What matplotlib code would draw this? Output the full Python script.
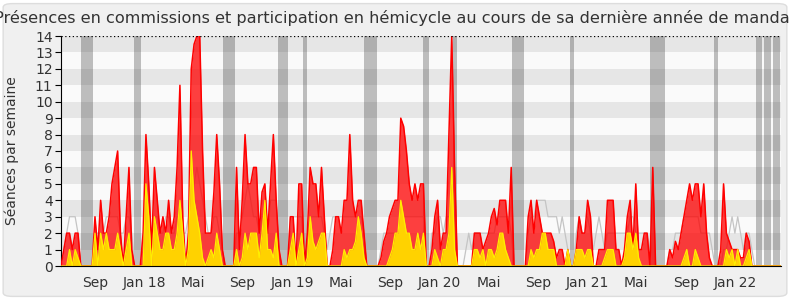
import pandas as pd
import matplotlib
matplotlib.use("Agg")
import matplotlib.pyplot as plt
from matplotlib.patches import FancyBboxPatch

# weekly values, one point per week from 2017-06-09
weeks = pd.date_range("2017-06-09", periods=256, freq="7D")

presences = [
    0, 1, 2, 2, 1, 2, 2, 0, 0, 0,
    0, 0, 3, 1, 4, 2, 2, 3, 5, 6,
    7, 2, 0, 3, 6, 1, 0, 0, 0, 2,
    8, 5, 1, 6, 4, 2, 3, 2, 4, 2,
    3, 6, 11, 3, 0, 2, 12, 13.5, 14, 14,
    7, 2, 2, 2, 4.5, 8, 5, 1, 0, 0,
    0, 0, 6, 1, 4, 8, 5, 5, 6, 6,
    2, 4.5, 5, 2, 5, 8, 4, 1, 0, 0,
    0, 3, 3, 0, 5, 5, 0, 2, 6, 5,
    5, 3, 6, 3, 0, 0, 1, 3, 3, 2,
    4, 4, 8, 4, 3, 4, 4, 2, 0, 0,
    0, 0, 0, 0.5, 1.5, 2, 3, 3.5, 4, 4,
    9, 8.5, 7, 5, 4, 5, 4, 5, 5, 0,
    0, 1, 3, 4, 1, 2, 2, 8, 14, 6,
    0, 0, 0, 0, 0, 0, 2, 2, 2, 1,
    1.5, 2, 3, 3.5, 2.5, 4, 4, 4, 2, 6,
    0, 0, 0, 0, 0, 3, 4, 2, 4, 3,
    2, 2, 2, 2, 1.5, 0.5, 1, 1, 0, 1,
    0, 0, 1, 3, 2, 2, 4, 3, 0, 0,
    1, 1, 1, 4, 4, 4, 1, 1, 0, 1,
    3, 4, 1, 5, 1, 1, 2, 2, 0, 6,
    0, 0, 0, 0, 0, 1, 0.5, 1.5, 1, 2,
    3, 4, 5, 4, 5, 5, 3, 5, 2, 0.5,
    0, 0, 0, 1, 5, 2, 1.5, 1, 1, 1,
    0.5, 0.5, 2, 1.5, 0, 0, 0, 0, 0, 0,
    0, 0, 0, 0, 0, 0,
]

hemicycle = [
    0, 0, 0, 1, 0, 1, 0.5, 0, 0, 0,
    0, 0, 2, 0, 2, 1, 2, 1, 1, 1,
    2, 1, 0, 1, 2, 0, 0, 0, 0, 0,
    5, 3, 0, 3, 2, 1, 1, 2, 2, 1,
    1, 2, 4, 2, 0, 1, 7, 4, 3, 2,
    0.5, 0, 0.5, 1, 0.5, 2, 1, 0, 0, 0,
    0, 0, 1, 0, 0.5, 2, 1, 2, 2, 2,
    0.5, 2, 4, 1, 1, 0.5, 2, 0, 0, 0,
    0, 1, 2, 0, 1, 2, 0, 0.5, 3, 1.5,
    1, 1.5, 2, 2, 0, 0, 0, 0, 0, 0,
    1, 0.5, 1, 1, 1.5, 3, 2, 0.5, 0, 0,
    0, 0, 0, 0, 0, 0, 0.5, 1, 2, 2,
    4, 3, 2, 2, 1, 1, 2, 1, 2, 0,
    0, 0, 1, 0.5, 0, 1, 1, 2, 6, 1,
    0, 0, 0, 0, 0, 0, 1, 1, 0.5, 1,
    0, 1, 1, 0.5, 1, 2, 2, 1, 0.5, 0,
    0, 0, 0, 0, 0, 0, 1, 0.5, 1, 1,
    2, 2, 1, 1, 1, 0, 0, 0, 0, 1,
    0, 0, 1, 1, 1, 0.5, 1, 1, 0, 0,
    0, 0, 0.5, 1, 1, 1, 0, 0, 0, 0.5,
    2, 2, 1, 2, 0.5, 0, 0, 0, 0, 0,
    0, 0, 0, 0, 0, 0, 0, 0, 0, 0,
    0.5, 1, 0, 0, 1, 0.5, 0, 0, 0, 0,
    0, 0, 0, 0, 0, 1, 0.5, 1, 0, 1,
    0, 0, 0.5, 1, 0, 0, 0, 0, 0, 0,
    0, 0, 0, 0, 0, 0,
]

mediane = [
    0, 1, 2, 3, 3, 3, 2, 0, 0, 0,
    0, 0, 2, 2, 2, 2, 3, 3, 3, 3,
    3, 2, 2, 3, 3, 2, 0, 0, 0, 2,
    3, 3, 2, 3, 3, 2, 2, 3, 3, 2,
    2, 3, 3, 2, 2, 3, 4, 5, 6, 5,
    4, 3, 2, 2, 3, 3, 2, 1, 0, 0,
    0, 0, 2, 2, 3, 4, 5, 4, 3, 3,
    2, 3, 3, 2, 4, 4, 4, 1, 0, 0,
    0, 3, 3, 3, 3, 3, 0, 2, 3, 3,
    3, 3, 3, 2, 1, 2, 3, 3, 3, 3,
    3, 3, 3, 3, 3, 3, 3, 2, 0, 0,
    0, 0, 0, 1, 2, 2, 2, 2, 2, 2,
    3, 3, 3, 3, 3, 3, 3, 3, 3, 0,
    0, 2, 2, 3, 3, 2, 3, 3, 3, 2,
    0, 0, 0, 1, 2, 1, 2, 2, 2, 2,
    2, 2, 2, 2, 3, 3, 3, 3, 3, 2,
    0, 0, 0, 0, 0, 2, 3, 3, 4, 4,
    4, 4, 3, 3, 3, 3, 2, 3, 2, 1,
    0, 0, 2, 3, 2, 2, 3, 2, 1, 2,
    3, 2, 1, 2, 2, 2, 2, 2, 2, 2,
    2, 3, 3, 2, 2, 2, 2, 2, 1, 0,
    0, 0, 0, 0, 0, 1, 1, 2, 2, 2,
    3, 3, 3, 3, 3, 3, 2, 2, 2, 2,
    1, 0, 0, 0, 1, 1, 2, 3, 2, 3,
    2, 1, 2, 2, 1, 0, 0, 0, 0, 0,
    0, 0, 0, 0, 0, 0,
]

vacances = [
    ("2017-07-28", "2017-08-27"), ("2017-12-06", "2017-12-24"),
    ("2018-07-14", "2018-08-13"), ("2018-11-27", "2018-12-22"),
    ("2019-01-28", "2019-02-07"), ("2019-06-28", "2019-07-30"),
    ("2019-11-21", "2019-12-06"), ("2020-02-03", "2020-02-13"),
    ("2020-06-28", "2020-07-28"), ("2020-11-19", "2020-11-29"),
    ("2021-06-04", "2021-07-11"), ("2021-11-10", "2021-11-20"),
    ("2022-02-22", "2022-03-09"), ("2022-03-14", "2022-03-31"),
    ("2022-04-05", "2022-04-22"),
]

tick_dates = ["2017-09-01", "2018-01-01", "2018-05-01", "2018-09-01", "2019-01-01",
              "2019-05-01", "2019-09-01", "2020-01-01", "2020-05-01", "2020-09-01",
              "2021-01-01", "2021-05-01", "2021-09-01", "2022-01-01"]
tick_labels = ["Sep", "Jan 18", "Mai", "Sep", "Jan 19", "Mai", "Sep", "Jan 20",
               "Mai", "Sep", "Jan 21", "Mai", "Sep", "Jan 22"]

titre = ("Présences en commissions et participation en hémicycle "
         "au cours de sa dernière année de mandat")

fig = plt.figure(figsize=(7.9, 3.0), dpi=100)
fig.patch.set_facecolor("white")
cadre = FancyBboxPatch((0.004, 0.012), 0.992, 0.976,
                       boxstyle="round,pad=0,rounding_size=0.012",
                       transform=fig.transFigure, facecolor="#f0f0f0",
                       edgecolor="#dddddd", lw=1, zorder=-10)
fig.patches.append(cadre)

ax = fig.add_axes([61 / 790, 34 / 300, 720 / 790, 230 / 300])
ax.set_zorder(1)

# horizontal bands
for k in range(14):
    ax.axhspan(k, k + 1, color="#e6e6e6" if k % 2 else "#fafafa", lw=0, zorder=0)

# holidays
for d0, d1 in vacances:
    ax.axvspan(pd.Timestamp(d0), pd.Timestamp(d1), color="#323232", alpha=0.3, lw=0, zorder=1)

ax.plot(weeks, mediane, color="#c4c4c4", lw=0.9, zorder=2)
ax.fill_between(weeks, presences, color="#ff0000", alpha=0.75, lw=0, zorder=3)
ax.plot(weeks, presences, color="#ff0000", lw=1.1, zorder=4)
ax.fill_between(weeks, hemicycle, color="#ffd200", lw=0, zorder=5)
ax.plot(weeks, hemicycle, color="#ffee00", lw=0.9, zorder=6)

ax.axhline(14, color="black", ls=(0, (1, 2)), lw=0.9, zorder=7)

ax.set_xlim(weeks[0], pd.Timestamp("2022-04-24"))
ax.set_ylim(0, 14)
ax.set_yticks(range(15))
ax.set_xticks(pd.to_datetime(tick_dates))
ax.set_xticklabels(tick_labels)
ax.tick_params(axis="x", length=0, labelsize=10, labelcolor="#333333", pad=7)
ax.tick_params(axis="y", length=4, labelsize=10, labelcolor="#333333", pad=2)
for s in ["top", "right"]:
    ax.spines[s].set_visible(False)
ax.spines["left"].set_color("black")
ax.spines["bottom"].set_color("black")
ax.spines["bottom"].set_zorder(8)
ax.set_ylabel("Séances par semaine", fontsize=10, color="#333333")
ax.yaxis.set_label_coords(-0.058, 0.5)

fig.text(0.5, 0.965, titre, ha="center", va="top", fontsize=11.6, color="#333333")

fig.savefig("out.png", dpi=100)
